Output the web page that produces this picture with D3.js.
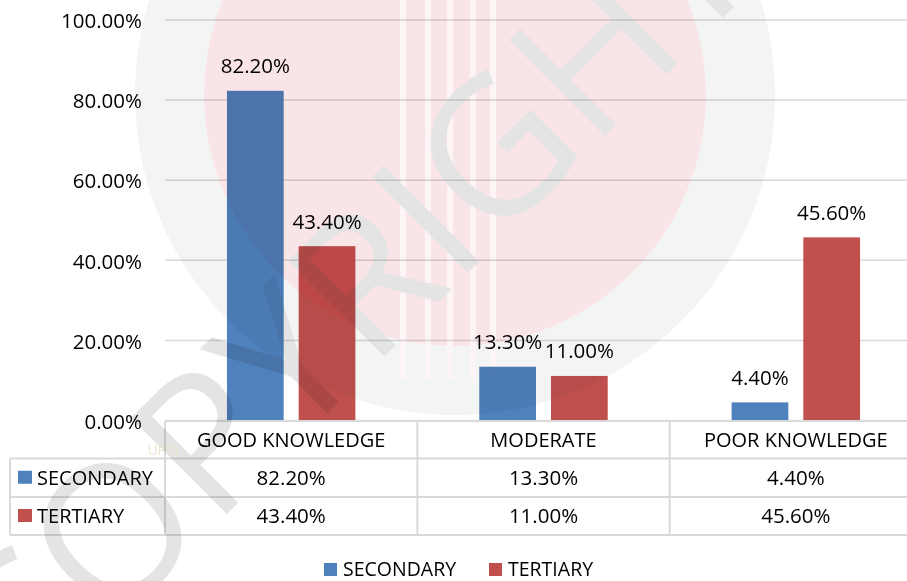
<!DOCTYPE html>
<html lang="en">
<head>
  <meta charset="utf-8">
  <title>Knowledge by education level</title>
<style>
  body { margin: 0; background: #fff; }
  svg text { font-family: "Open Sans", "Noto Sans", sans-serif; fill: #000; }
  .grid line { stroke: #d9d9d9; stroke-width: 1.5; }
  .tbl line { stroke: #d9d9d9; stroke-width: 2; }
  .wm { mix-blend-mode: multiply; }
</style>
<script src="https://d3js.org/d3.v7.min.js"></script>
</head>
<body>
<svg width="907" height="581"></svg>
<script>

// data
var categories = ["GOOD KNOWLEDGE", "MODERATE", "POOR KNOWLEDGE"];
var seriesNames = ["SECONDARY", "TERTIARY"];
var secondary = [82.2, 13.3, 4.4];
var tertiary = [43.4, 11.0, 45.6];
var yTicks = [0, 20, 40, 60, 80, 100];
var colors = ["#4F81BD", "#C0504D"];

var values = [secondary, tertiary];
var fmt = function(v) { return v.toFixed(2) + "%"; };

var svg = d3.select("svg");

// scales
var x = d3.scaleBand().domain(categories).range([165, 922]);
var xs = d3.scaleBand().domain(seriesNames)
    .range([0, x.bandwidth()])
    .paddingInner(0.209)
    .paddingOuter(0.864);
var y = d3.scaleLinear().domain([0, 100]).range([420, 19.5]);

// gridlines
svg.append("g")
    .attr("class", "grid")
    .attr("transform", "translate(165,0)")
    .call(d3.axisLeft(y).tickValues(yTicks).tickSize(-760).tickFormat(""))
    .call(function(g) { g.select(".domain").remove(); });

// y axis labels
svg.append("g")
    .attr("transform", "translate(165,0)")
    .call(d3.axisLeft(y).tickValues(yTicks).tickSize(0).tickPadding(23).tickFormat(fmt))
    .call(function(g) {
        g.select(".domain").remove();
        g.selectAll("text").attr("font-size", "20.5px")
            .attr("font-family", "'Open Sans', sans-serif").attr("fill", "#000").attr("dy", "0.4em");
    });

// bars
var groups = svg.append("g").selectAll("g")
    .data(seriesNames)
    .enter().append("g");

groups.selectAll("rect")
    .data(function(s, i) { return categories.map(function(c, j) { return {s: s, i: i, c: c, v: values[i][j]}; }); })
    .enter().append("rect")
    .attr("x", function(d) { return x(d.c) + xs(d.s); })
    .attr("y", function(d) { return y(d.v); })
    .attr("width", xs.bandwidth())
    .attr("height", function(d) { return y(0) - y(d.v); })
    .attr("fill", function(d) { return colors[d.i]; });

groups.selectAll("text")
    .data(function(s, i) { return categories.map(function(c, j) { return {s: s, i: i, c: c, v: values[i][j]}; }); })
    .enter().append("text")
    .attr("x", function(d) { return x(d.c) + xs(d.s) + xs.bandwidth() / 2; })
    .attr("y", function(d) { return y(d.v) - 17.5; })
    .attr("text-anchor", "middle")
    .attr("font-size", "20.5px")
    .text(function(d) { return fmt(d.v); });

// data table under the plot
var rowY = [421, 458.5, 497, 535];
var tbl = svg.append("g").attr("class", "tbl");
tbl.append("line").attr("x1", 165).attr("x2", 922).attr("y1", rowY[0]).attr("y2", rowY[0]);
rowY.slice(1).forEach(function(ry) {
    tbl.append("line").attr("x1", 10).attr("x2", 922).attr("y1", ry).attr("y2", ry);
});
tbl.append("line").attr("x1", 10).attr("x2", 10).attr("y1", rowY[1]).attr("y2", rowY[3]);
categories.forEach(function(c) {
    tbl.append("line").attr("x1", x(c)).attr("x2", x(c)).attr("y1", rowY[0]).attr("y2", rowY[3]);
});

svg.append("g").selectAll("text")
    .data(categories)
    .enter().append("text")
    .attr("x", function(c) { return x(c) + x.bandwidth() / 2; })
    .attr("y", (rowY[0] + rowY[1]) / 2)
    .attr("dy", "0.36em")
    .attr("text-anchor", "middle")
    .attr("font-size", "20px")
    .text(function(c) { return c; });

seriesNames.forEach(function(s, i) {
    var cy = (rowY[i + 1] + rowY[i + 2]) / 2;
    svg.append("rect").attr("x", 18).attr("y", cy - 7).attr("width", 14).attr("height", 13).attr("fill", colors[i]);
    svg.append("text").attr("x", 37).attr("y", cy).attr("dy", "0.36em")
        .attr("font-size", "20px").text(s);
    svg.append("g").selectAll("text")
        .data(values[i])
        .enter().append("text")
        .attr("x", function(v, j) { return x(categories[j]) + x.bandwidth() / 2; })
        .attr("y", cy)
        .attr("dy", "0.36em")
        .attr("text-anchor", "middle")
        .attr("font-size", "20.5px")
        .text(fmt);
});

// legend at the bottom
var legendX = [324, 489];
seriesNames.forEach(function(s, i) {
    svg.append("rect").attr("x", legendX[i]).attr("y", 563).attr("width", 13).attr("height", 13).attr("fill", colors[i]);
    svg.append("text").attr("x", legendX[i] + 19).attr("y", 575.5)
        .attr("font-size", "19.5px").text(s);
});

// faint watermark over the chart (multiplied so white stays white)
var wm = svg.append("g").attr("class", "wm").attr("pointer-events", "none");
var ring = d3.path();
ring.arc(455, 95, 320, 0, 2 * Math.PI);
ring.moveTo(455 + 251, 95);
ring.arc(455, 95, 251, 0, 2 * Math.PI);
wm.append("path").attr("d", ring.toString()).attr("fill-rule", "evenodd")
    .attr("fill", "#f3f4f4");
wm.append("circle").attr("cx", 455).attr("cy", 95).attr("r", 251)
    .attr("fill", "#f9e4e7");
[400, 425, 447, 470, 490].forEach(function(sx) {
    wm.append("rect").attr("x", sx).attr("y", 0).attr("width", 6).attr("height", 380)
        .attr("fill", "#fcf4f5");
});
wm.append("text")
    .attr("transform", "translate(346,298) rotate(-45)")
    .attr("text-anchor", "middle")
    .attr("dy", "0.36em")
    .attr("font-size", "190px")
    .attr("textLength", 1050)
    .attr("lengthAdjust", "spacing")
    .style("fill", "#e4e4e4")
    .text("COPYRIGHT");
wm.append("text").attr("x", 163).attr("y", 450).attr("dy", "0.36em")
    .attr("text-anchor", "middle").attr("font-size", "14px")
    .style("fill", "#ebe6d2").text("UPM");

</script>
</body>
</html>
